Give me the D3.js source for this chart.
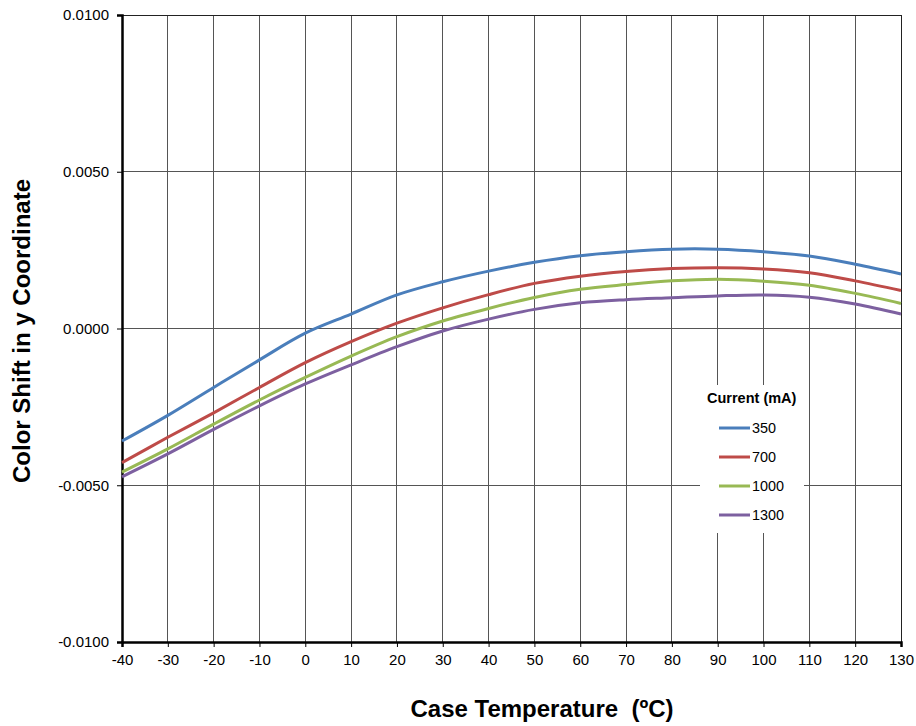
<!DOCTYPE html>
<html>
<head>
<meta charset="utf-8">
<script src="https://cdn.jsdelivr.net/npm/d3@7"></script>
<style>
  body { margin: 0; background: #fff; }
  svg { display: block; font-family: "Liberation Sans", Arial, sans-serif; }
</style>
</head>
<body>
<svg id="chart" width="916" height="726"></svg>
<script>
// Case temperature (C)
const temps = [-40, -30, -20, -10, 0, 10, 20, 30, 40, 50, 60, 70, 80, 90, 100, 110, 120, 130]
// Color shift in y coordinate (x 0.001), one list per drive current
const shift350 = [-3.59, -2.77, -1.88, -1.00, -0.15, 0.46, 1.07, 1.49, 1.83, 2.11, 2.32, 2.45, 2.53, 2.53, 2.45, 2.31, 2.05, 1.74]
const shift700 = [-4.28, -3.47, -2.69, -1.88, -1.09, -0.42, 0.17, 0.66, 1.08, 1.44, 1.67, 1.82, 1.91, 1.94, 1.90, 1.78, 1.52, 1.21]
const shift1000 = [-4.58, -3.84, -3.05, -2.28, -1.56, -0.88, -0.26, 0.24, 0.64, 0.99, 1.25, 1.40, 1.52, 1.57, 1.51, 1.38, 1.12, 0.80]
const shift1300 = [-4.73, -4.00, -3.22, -2.47, -1.77, -1.16, -0.58, -0.08, 0.30, 0.61, 0.82, 0.92, 0.98, 1.04, 1.07, 1.00, 0.78, 0.46]
const currents = ['350', '700', '1000', '1300']
const colors = ['#4a7ebb', '#be4b48', '#98b954', '#7d60a0']
const yTicks = [-0.01, -0.005, 0, 0.005, 0.01]
const xTicks = d3.range(-40, 131, 10)

const series = [shift350, shift700, shift1000, shift1300].map((vals, i) => ({
  name: currents[i],
  color: colors[i],
  points: vals.map((v, j) => ({ t: temps[j], v: v / 1000 }))
}))

const svg = d3.select('#chart')
const margin = { left: 122, right: 15, top: 15, bottom: 84 }
const width = 916 - margin.left - margin.right
const height = 726 - margin.top - margin.bottom

const x = d3.scaleLinear().domain([-40, 130]).range([0, width])
const y = d3.scaleLinear().domain([-0.01, 0.01]).range([height, 0])

const g = svg.append('g').attr('transform', `translate(${margin.left},${margin.top})`)

// Gridlines
g.append('g').selectAll('line.vgrid').data(xTicks.slice(1)).enter().append('line')
  .attr('x1', d => x(d)).attr('x2', d => x(d))
  .attr('y1', 0).attr('y2', height)
  .attr('stroke', d => d === 130 ? '#222' : '#555').attr('stroke-width', 1)
  .attr('shape-rendering', 'crispEdges')
g.append('g').selectAll('line.hgrid').data(yTicks.slice(1)).enter().append('line')
  .attr('x1', 0).attr('x2', width)
  .attr('y1', d => y(d)).attr('y2', d => y(d))
  .attr('stroke', d => d === 0.01 ? '#222' : '#555').attr('stroke-width', 1)
  .attr('shape-rendering', 'crispEdges')

// Axes (plain hyphen for negatives, like the original)
const yAxis = d3.axisLeft(y).tickValues(yTicks).tickSize(5).tickPadding(8)
  .tickFormat(d => Math.abs(d) < 1e-12 ? '0.0000' : d.toFixed(4))
const xAxis = d3.axisBottom(x).tickValues(xTicks).tickSize(5).tickPadding(7)
  .tickFormat(d => String(d))

const ya = g.append('g').call(yAxis)
const xa = g.append('g').attr('transform', `translate(0,${height})`).call(xAxis)
;[ya, xa].forEach(a => {
  a.attr('font-size', null).attr('font-family', null)
  a.select('.domain').attr('stroke', '#000').attr('stroke-width', 2.5)
  a.selectAll('.tick line').attr('stroke', '#000')
  a.selectAll('.tick text').attr('fill', '#000').style('font-size', '15px')
})

// Curves
const line = d3.line()
  .x(d => x(d.t))
  .y(d => y(d.v))
  .curve(d3.curveCatmullRom.alpha(0.5))

g.append('g').selectAll('path.series').data(series).enter().append('path')
  .attr('class', 'series')
  .attr('d', d => line(d.points))
  .attr('fill', 'none')
  .attr('stroke', d => d.color)
  .attr('stroke-width', 3)
  .attr('stroke-linejoin', 'round')

// Legend
const legend = svg.append('g').attr('transform', 'translate(700,385)')
legend.append('rect').attr('x', 0).attr('y', 0).attr('width', 104).attr('height', 148).attr('fill', '#fff')
legend.append('text').attr('x', 7).attr('y', 18)
  .style('font-size', '14.5px').style('font-weight', 'bold').text('Current (mA)')
const item = legend.selectAll('g.item').data(series).enter().append('g')
  .attr('transform', (d, i) => `translate(0,${43 + i * 29})`)
item.append('line').attr('x1', 19).attr('x2', 50).attr('y1', 0).attr('y2', 0)
  .attr('stroke', d => d.color).attr('stroke-width', 3)
item.append('text').attr('x', 52).attr('y', 5)
  .style('font-size', '14.4px').text(d => d.name)

// Axis titles
svg.append('text')
  .attr('x', 542).attr('y', 717)
  .attr('text-anchor', 'middle')
  .style('font-size', '24px').style('font-weight', 'bold')
  .style('white-space', 'pre')
  .text('Case Temperature  (ºC)')
svg.append('text')
  .attr('transform', 'translate(30,331) rotate(-90)')
  .attr('text-anchor', 'middle')
  .style('font-size', '24px').style('font-weight', 'bold')
  .text('Color Shift in y Coordinate')
</script>
</body>
</html>
